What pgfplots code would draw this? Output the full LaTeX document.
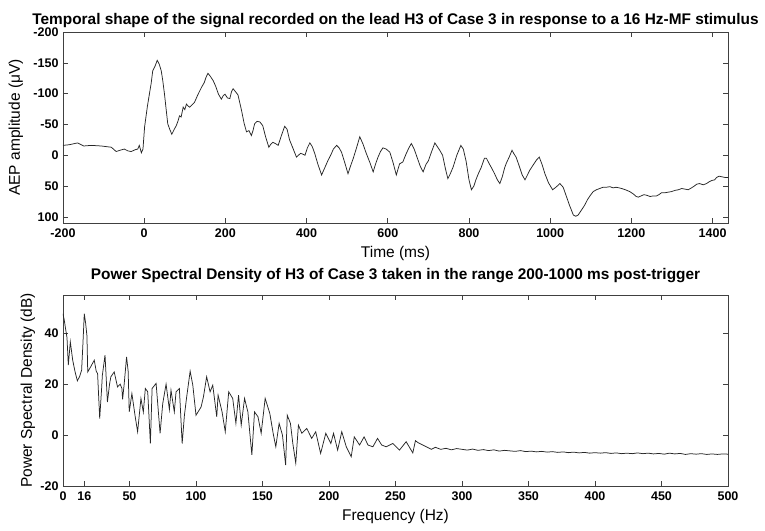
\documentclass[border=0pt]{standalone}
\usepackage{pgfplots}
\pgfplotsset{compat=1.18}
\usepackage{fontspec}
\setmainfont{Liberation Sans}
\pgfplotstableread{
t v
-200 -16
-185 -17
-164 -20
-149 -15
-130 -16
-106 -15
-81 -13
-69 -6
-60 -8
-49 -10
-40 -7
-32 -6
-22 -9
-16 -10
-12 -16
-7 -4
-3 -10
1 -46
8 -80
17 -116
21 -137
27 -145
32 -154
37 -148
42 -137
46 -120
50 -99
54 -75
58 -51
63 -42
68 -34
74 -42
79 -48
83 -55
87 -64
91 -62
96 -78
100 -74
104 -83
108 -80
112 -78
118 -82
124 -86
132 -98
141 -110
148 -118
152 -126
157 -133
163 -128
170 -121
176 -112
183 -99
190 -91
195 -97
199 -99
205 -93
211 -92
215 -103
219 -108
225 -103
231 -98
240 -72
246 -52
252 -38
258 -40
264 -32
268 -40
272 -51
278 -55
285 -54
292 -48
299 -30
307 -13
312 -18
317 -21
323 -19
330 -16
338 -32
346 -47
352 -42
358 -25
366 -12
375 3
385 -3
390 -2
396 0
402 -12
408 -20
414 -14
420 -3
428 15
437 32
445 20
453 8
460 -1
466 -10
474 -16
480 -12
486 -5
494 12
502 30
508 18
515 5
523 -12
531 -30
539 -18
547 -3
556 12
564 27
570 14
576 3
582 -6
588 -12
596 -10
605 -5
613 12
621 32
629 14
637 11
645 -2
652 -12
658 -19
665 -10
673 5
680 18
687 27
694 15
700 9
708 -6
716 -20
722 -14
728 -8
735 0
742 22
748 38
754 30
761 19
770 0
780 -16
786 -10
793 10
800 40
806 56
812 50
817 40
823 30
830 20
838 5
843 5
850 14
856 21
863 30
870 40
876 46
882 35
888 20
892 13
899 3
906 -8
911 -2
916 3
924 18
931 32
938 40
944 32
950 24
958 16
966 8
973 3
980 15
987 30
996 45
1006 56
1014 52
1024 46
1032 52
1040 67
1048 82
1057 97
1063 99
1069 97
1076 90
1085 81
1092 72
1098 66
1106 59
1114 56
1122 54
1130 52
1138 52
1147 51
1155 53
1162 52
1170 53
1176 54
1185 56
1196 59
1205 63
1212 67
1217 68
1224 66
1231 64
1238 65
1246 67
1254 66
1262 66
1268 64
1274 61
1282 61
1290 60
1299 59
1308 57
1316 56
1324 54
1332 55
1340 56
1348 53
1355 50
1361 47
1368 46
1377 48
1385 46
1392 43
1398 41
1405 40
1410 36
1416 34
1423 35
1430 36
1438 36
}\aeptable
\pgfplotstableread{
f v
0 47.7
1 45
1.7 42.5
3 38.3
4 27.5
5.5 36.6
7.3 29.4
9 25
10.8 21.3
12.5 23
14 25.5
15 36
16 47.7
17 44
18 39
18.6 24.8
21 27
23.5 29.4
25 25
26 24.2
27.6 6.5
29 18
29.6 23.5
31.6 31.4
33.4 13
35 20
36 22.9
38.5 24.8
41 18.9
43 20
44.3 18.3
44.8 14
46 20
47.8 30.7
49 25
49.8 9.1
51.8 16.3
54.3 7.2
56.1 1.3
58.6 14.4
60.4 9
61.9 18.3
63.7 17
65.7 -3.3
67 18.3
70 20.3
73 0.7
75 12.4
77.5 20
80 10
81.2 17.6
83.7 9.1
85 17
87.5 18.3
89.6 -3.3
91.3 7.8
93 15
95.6 25.1
97.6 19.6
100 7.8
103.8 11
105.6 15
108 22.9
110.6 17
112.6 19.6
115.6 7.2
116.6 15.7
119.6 9.1
122 1.3
124.6 17
127.6 14.4
130 4.6
132 15.7
134 3.9
136.5 14.4
139 9.1
142 -7.8
144 9.1
146.6 7.2
149 0.7
152 14.4
155.5 8.5
158 0.7
160 -4.6
162.5 4.6
165 0
167.4 -11.8
168.6 7.8
171 4.6
172.8 -3.3
175 -11
177 3.9
179.6 0.7
183.3 2.6
187 -1.3
190 1.3
193.7 -7.2
197.6 0.7
201.4 -3.3
203.4 0.7
206.5 -5.9
209.6 1.3
213 -4.6
216.7 -8.5
219 -0.7
223 -3.9
226.4 -0.7
229.3 -3.9
233 -4.6
236.5 -1.3
239.6 -3.9
243 -4.6
248 -3.3
253 -5.9
258 -2.6
263 -7.0
265 -2.2
267 -3
272 -4.3
277 -5.6
280 -4.8
284 -5.6
288 -5.2
292 -5.8
296 -5.3
300 -5.6
304 -5.9
308 -5.5
312 -6.0
316 -5.7
320 -6.1
324 -5.8
328 -6.3
332 -6.0
336 -6.2
340 -6.4
344 -6.1
348 -6.5
352 -6.3
356 -6.6
360 -6.4
364 -6.7
368 -6.5
372 -6.8
376 -6.6
380 -6.9
384 -6.7
388 -7.0
392 -6.8
396 -7.1
400 -6.9
404 -7.1
408 -6.9
412 -7.2
416 -7.0
420 -7.3
424 -7.1
428 -7.3
432 -7.0
436 -7.3
440 -7.1
444 -7.4
448 -7.2
452 -7.5
456 -7.1
460 -7.4
464 -7.2
468 -7.6
472 -7.3
476 -7.5
480 -7.3
484 -7.6
488 -7.4
492 -7.6
496 -7.4
500 -7.5
}\psdtable
\pgfplotsset{
  myax/.style={
    scale only axis,
    width=665pt, height=191pt,
    axis line style={black!75, line width=0.7pt},
    tick align=inside,
    major tick length=5pt,
    tick style={black!75, line width=0.6pt},
    ticklabel style={font=\fontsize{12.5}{13}\selectfont\bfseries},
    xticklabel style={anchor=north, yshift=-2pt},
    yticklabel style={anchor=east, xshift=-1pt},
    label style={font=\fontsize{15.5}{17}\selectfont},
    xlabel style={at={(axis description cs:0.5,0)}, anchor=base, yshift=-34pt},
  }
}
\begin{document}
\begin{tikzpicture}
\path[use as bounding box] (-63pt,-307pt) rectangle (702pt,223pt);
\begin{axis}[myax,
  at={(0pt,0pt)}, anchor=south west,
  xmin=-200, xmax=1438,
  ymin=-200, ymax=110, y dir=reverse,
  xtick={-200,0,200,400,600,800,1000,1200,1400},
  xticklabels={-200,0,200,400,600,800,1000,1200,1400},
  ytick={-200,-150,-100,-50,0,50,100},
  yticklabels={-200,-150,-100,-50,0,50,100},
  xlabel={Time (ms)},
  ylabel={AEP amplitude (μV)},
  ylabel style={at={(axis description cs:0,0.5)}, anchor=base, yshift=43pt},
  title={Temporal shape of the signal recorded on the lead H3 of Case 3 in response to a 16 Hz-MF stimulus},
  title style={font=\fontsize{15.4}{17}\selectfont\bfseries, at={(axis description cs:0.5,1)}, anchor=base, yshift=2pt},
]
\addplot[black!85, line width=0.75pt] table[x=t, y=v] {\aeptable};
\end{axis}
\begin{axis}[myax,
  at={(0pt,-263pt)}, anchor=south west,
  xmin=0, xmax=500,
  ymin=-20, ymax=55,
  xtick={0,16,50,100,150,200,250,300,350,400,450,500},
  xticklabels={0,16,50,100,150,200,250,300,350,400,450,500},
  ytick={-20,0,20,40},
  yticklabels={-20,0,20,40},
  xlabel={Frequency (Hz)},
  ylabel={Power Spectral Density (dB)},
  ylabel style={at={(axis description cs:0,0.5)}, anchor=base, yshift=31pt},
  title={Power Spectral Density of H3 of Case 3 taken in the range 200-1000 ms post-trigger},
  title style={font=\fontsize{15.4}{17}\selectfont\bfseries, at={(axis description cs:0.5,1)}, anchor=base, yshift=10pt},
]
\addplot[black!85, line width=0.75pt] table[x=f, y=v] {\psdtable};
\end{axis}
\end{tikzpicture}
\end{document}
